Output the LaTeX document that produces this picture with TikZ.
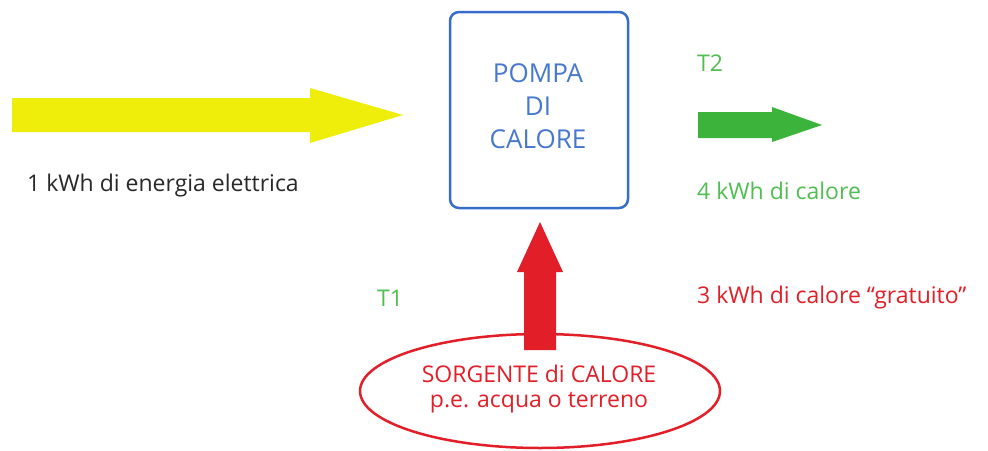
\documentclass[tikz,border=0pt]{standalone}
\usepackage{fontspec}
\setmainfont{Open Sans}
\usetikzlibrary{shapes.geometric}
\definecolor{yel}{RGB}{238,238,10}
\definecolor{grn}{RGB}{60,180,60}
\definecolor{grntxt}{RGB}{80,190,80}
\definecolor{rd}{RGB}{226,30,40}
\definecolor{blu}{RGB}{55,110,205}
\definecolor{blutxt}{RGB}{70,120,205}
\definecolor{gry}{RGB}{40,40,40}
\tikzset{
  lbl/.style={inner sep=0pt, anchor=west, font=\fontsize{23}{27}\selectfont},
  ctr/.style={inner sep=0pt, align=center, font=\fontsize{26}{33}\selectfont}
}
\begin{document}
\begin{tikzpicture}[x=1pt,y=-1pt]
\useasboundingbox (0,0) rectangle (988,450);
\fill[white] (0,0) rectangle (988,450);
% heat pump box
\node[draw=blu, line width=2.5pt, rounded corners=9pt, minimum width=178pt, minimum height=196pt, inner sep=0pt] (box) at (539,110) {};
\node[ctr, text=blutxt] (boxtxt) at (538,106) {POMPA\\DI\\CALORE};
% source ellipse
\node[draw=rd, line width=2.5pt, ellipse, minimum width=360pt, minimum height=114pt, inner sep=0pt] (src) at (540,391) {};
\node[inner sep=0pt, align=center, text=rd, font=\fontsize{23}{25}\selectfont] (srctxt) at (539,389) {SORGENTE di CALORE\\p.e. acqua o terreno};
% yellow arrow
\coordinate (yb) at (403,115);
\fill[yel] (12,98) -- (310,98) -- (310,88) -- (yb) -- (310,143) -- (310,132) -- (12,132) -- cycle;
% green arrow
\coordinate (gb) at (822,125);
\fill[grn] (698,112) -- (772,112) -- (772,107) -- (gb) -- (772,142) -- (772,138) -- (698,138) -- cycle;
% red arrow
\coordinate (rt) at (540,222);
\fill[rd] (524,350) -- (524,272) -- (517,272) -- (rt) -- (563,272) -- (556,272) -- (556,350) -- cycle;
% labels
\node[lbl, text=gry] (l1) at (27,186) {1 kWh di energia elettrica};
\node[lbl, text=grntxt] (t2) at (697,63) {T2};
\node[lbl, text=grntxt] (l4) at (697,191) {4 kWh di calore};
\node[lbl, text=grntxt] (t1) at (377,298) {T1};
\node[lbl, text=rd] (l3) at (697,298) {3 kWh di calore “gratuito”};
\end{tikzpicture}
\end{document}
